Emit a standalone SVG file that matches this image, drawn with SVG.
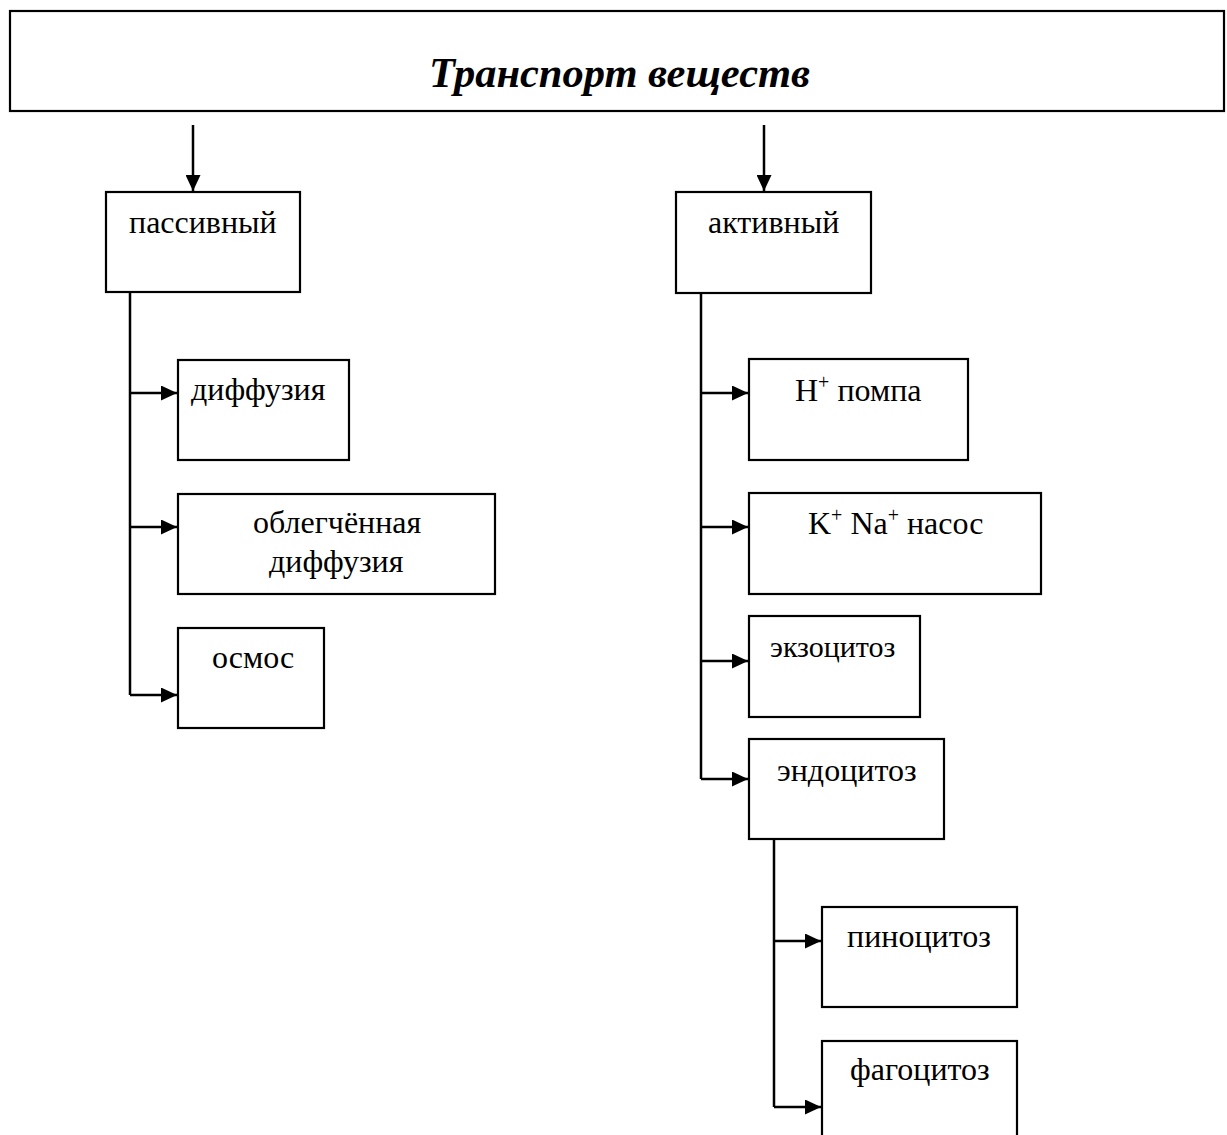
<svg xmlns="http://www.w3.org/2000/svg" width="1227" height="1135" viewBox="0 0 1227 1135">
<style>
.box{fill:#fff;stroke:#000;stroke-width:2.2}
.t{font-family:"Liberation Serif","Times New Roman",serif;font-size:32px;fill:#000}
.title{font-family:"Liberation Serif","Times New Roman",serif;font-size:42.5px;font-weight:bold;font-style:italic;fill:#000}
.ln{fill:none;stroke:#000;stroke-width:2.5}
.sup{font-size:20px}
</style>
<defs>
<marker id="ah" markerWidth="16" markerHeight="15" refX="16" refY="7.5" orient="auto" markerUnits="userSpaceOnUse">
<path d="M0,0 L16,7.5 L0,15 Z" fill="#000"/>
</marker>
</defs>
<rect width="1227" height="1135" fill="#fff"/>
<g id="connectors">
<line class="ln" x1="193" y1="125" x2="193" y2="191" marker-end="url(#ah)"/>
<line class="ln" x1="764" y1="125" x2="764" y2="191" marker-end="url(#ah)"/>
<polyline class="ln" points="130,293 130,695"/>
<line class="ln" x1="130" y1="393" x2="177" y2="393" marker-end="url(#ah)"/>
<line class="ln" x1="130" y1="527" x2="177" y2="527" marker-end="url(#ah)"/>
<line class="ln" x1="130" y1="695" x2="177" y2="695" marker-end="url(#ah)"/>
<polyline class="ln" points="701,293 701,779"/>
<line class="ln" x1="701" y1="393" x2="748" y2="393" marker-end="url(#ah)"/>
<line class="ln" x1="701" y1="527" x2="748" y2="527" marker-end="url(#ah)"/>
<line class="ln" x1="701" y1="661" x2="748" y2="661" marker-end="url(#ah)"/>
<line class="ln" x1="701" y1="779" x2="748" y2="779" marker-end="url(#ah)"/>
<polyline class="ln" points="774,840 774,1107"/>
<line class="ln" x1="774" y1="941" x2="821" y2="941" marker-end="url(#ah)"/>
<line class="ln" x1="774" y1="1107" x2="821" y2="1107" marker-end="url(#ah)"/>
</g>
<g id="title"><rect class="box" x="10" y="11" width="1214" height="100"/><text class="title" x="429" y="87">Транспорт веществ</text></g>
<g id="passive"><rect class="box" x="106" y="192" width="194" height="100"/><text class="t" x="129" y="233">пассивный</text></g>
<g id="active"><rect class="box" x="676" y="192" width="195" height="101"/><text class="t" x="708" y="233">активный</text></g>
<g id="diffusion"><rect class="box" x="178" y="360" width="171" height="100"/><text class="t" x="191" y="400">диффузия</text></g>
<g id="facilitated"><rect class="box" x="178" y="494" width="317" height="100"/><text class="t" x="253" y="533">облегчённая</text><text class="t" x="269" y="572">диффузия</text></g>
<g id="osmosis"><rect class="box" x="178" y="628" width="146" height="100"/><text class="t" x="212" y="668">осмос</text></g>
<g id="hpump"><rect class="box" x="749" y="359" width="219" height="101"/><text class="t" x="795" y="401">H<tspan class="sup" dy="-12">+</tspan><tspan dy="12"> помпа</tspan></text></g>
<g id="knapump"><rect class="box" x="749" y="493" width="292" height="101"/><text class="t" x="808" y="534">K<tspan class="sup" dy="-12">+</tspan><tspan dy="12"> Na</tspan><tspan class="sup" dy="-12">+</tspan><tspan dy="12"> насос</tspan></text></g>
<g id="exocytosis"><rect class="box" x="749" y="616" width="171" height="101"/><text class="t" x="770" y="657" style="font-size:30px">экзоцитоз</text></g>
<g id="endocytosis"><rect class="box" x="749" y="739" width="195" height="100"/><text class="t" x="777" y="781">эндоцитоз</text></g>
<g id="pinocytosis"><rect class="box" x="822" y="907" width="195" height="100"/><text class="t" x="847" y="947">пиноцитоз</text></g>
<g id="phagocytosis"><rect class="box" x="822" y="1041" width="195" height="110"/><text class="t" x="850" y="1080">фагоцитоз</text></g>
</svg>
